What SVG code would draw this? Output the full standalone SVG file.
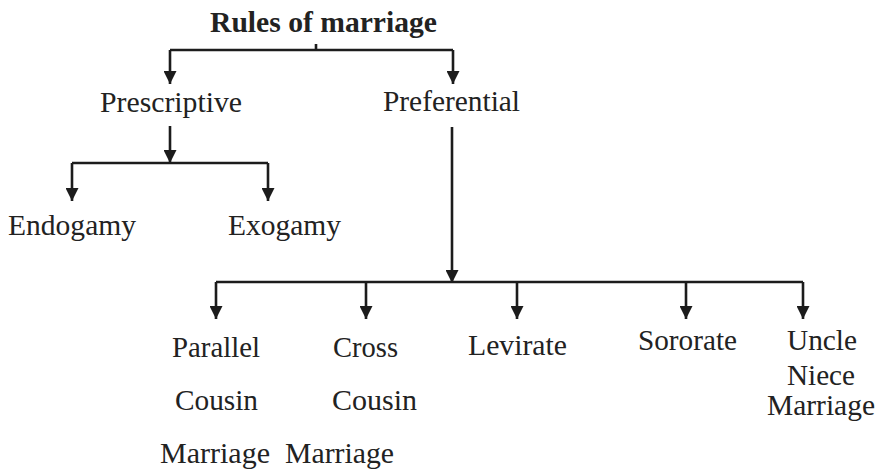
<svg xmlns="http://www.w3.org/2000/svg" width="884" height="471" viewBox="0 0 884 471">
<style>
.c line,.c path{stroke:#1c1c1c;stroke-width:2.6;fill:none}
</style>
<defs>
<marker id="ah" viewBox="0 0 12 12" refX="12" refY="6" markerWidth="13" markerHeight="13" markerUnits="userSpaceOnUse" orient="auto">
<path d="M0,0 L12,6 L0,12 z" fill="#1c1c1c"/>
</marker>
</defs>
<rect width="884" height="471" fill="#fff"/>
<g id="connectors" class="c">
<line x1="316" y1="44" x2="316" y2="50"/>
<path d="M170,50 H453"/>
<line x1="170" y1="50" x2="170" y2="84" marker-end="url(#ah)"/>
<line x1="453" y1="50" x2="453" y2="84" marker-end="url(#ah)"/>
<line x1="170" y1="126" x2="170" y2="163" marker-end="url(#ah)"/>
<path d="M72,163 H268"/>
<line x1="72" y1="163" x2="72" y2="201" marker-end="url(#ah)"/>
<line x1="268" y1="163" x2="268" y2="201" marker-end="url(#ah)"/>
<line x1="452" y1="127" x2="452" y2="283" marker-end="url(#ah)"/>
<path d="M216,282 H803"/>
<line x1="216" y1="282" x2="216" y2="319" marker-end="url(#ah)"/>
<line x1="366" y1="282" x2="366" y2="319" marker-end="url(#ah)"/>
<line x1="517" y1="282" x2="517" y2="319" marker-end="url(#ah)"/>
<line x1="686" y1="282" x2="686" y2="319" marker-end="url(#ah)"/>
<line x1="803" y1="282" x2="803" y2="319" marker-end="url(#ah)"/>
</g>
<g font-family="Liberation Serif" font-size="30" fill="#222">
<g id="root"><text font-weight="bold" x="210" y="32" textLength="227" lengthAdjust="spacingAndGlyphs">Rules of marriage</text></g>
<g id="prescriptive"><text x="100" y="112" textLength="142" lengthAdjust="spacingAndGlyphs">Prescriptive</text></g>
<g id="preferential"><text x="383" y="111" textLength="137" lengthAdjust="spacingAndGlyphs">Preferential</text></g>
<g id="endogamy"><text x="8" y="235" textLength="128" lengthAdjust="spacingAndGlyphs">Endogamy</text></g>
<g id="exogamy"><text x="228" y="235" textLength="113" lengthAdjust="spacingAndGlyphs">Exogamy</text></g>
<g id="parallel">
<text x="172" y="357" textLength="88" lengthAdjust="spacingAndGlyphs">Parallel</text>
<text x="175" y="410" textLength="83" lengthAdjust="spacingAndGlyphs">Cousin</text>
<text x="160" y="463" textLength="110" lengthAdjust="spacingAndGlyphs">Marriage</text>
</g>
<g id="cross">
<text x="333" y="357" textLength="65" lengthAdjust="spacingAndGlyphs">Cross</text>
<text x="332" y="410" textLength="85" lengthAdjust="spacingAndGlyphs">Cousin</text>
<text x="285" y="463" textLength="109" lengthAdjust="spacingAndGlyphs">Marriage</text>
</g>
<g id="levirate"><text x="468" y="355" textLength="99" lengthAdjust="spacingAndGlyphs">Levirate</text></g>
<g id="sororate"><text x="638" y="350" textLength="99" lengthAdjust="spacingAndGlyphs">Sororate</text></g>
<g id="uncle">
<text x="787" y="350" textLength="70" lengthAdjust="spacingAndGlyphs">Uncle</text>
<text x="787" y="385" textLength="68" lengthAdjust="spacingAndGlyphs">Niece</text>
<text x="767" y="415" textLength="108" lengthAdjust="spacingAndGlyphs">Marriage</text>
</g>
</g>
</svg>
